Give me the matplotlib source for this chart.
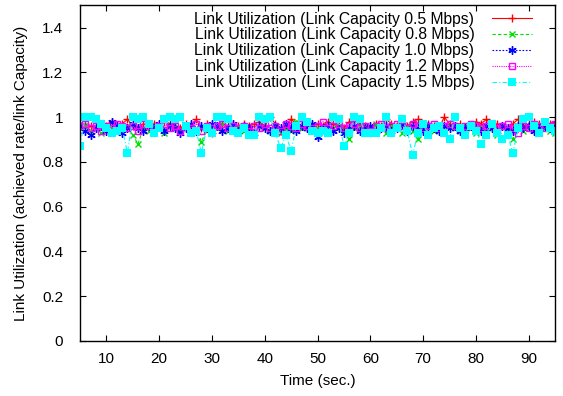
import numpy as np
import matplotlib
matplotlib.use('Agg')
import matplotlib.pyplot as plt

plt.rcParams['font.family'] = ['Liberation Sans', 'DejaVu Sans']
plt.rcParams['font.size'] = 11

# -- Time axis (sec.)
time_s = list(range(5, 96))

# -- Link utilization per link capacity
util_05 = [0.96, 0.97, 0.96, 0.95, 0.97, 0.96, 0.98, 0.96, 0.97, 0.99,
           0.96, 0.95, 0.97, 0.96, 0.97, 0.96, 0.98, 0.97, 0.96, 0.95,
           0.97, 0.96, 0.99, 0.95, 0.97, 0.93, 0.96, 0.97, 0.96, 0.95,
           0.96, 0.97, 0.96, 0.97, 0.98, 0.96, 1.00, 0.97, 0.94, 0.96,
           0.99, 0.97, 0.96, 0.95, 0.96, 0.97, 0.96, 0.98, 0.97, 0.96,
           0.95, 0.98, 0.99, 0.97, 0.96, 0.94, 0.97, 0.96, 0.99, 0.97,
           0.96, 0.97, 0.96, 0.98, 0.99, 0.96, 0.97, 0.96, 0.95, 1.00,
           0.97, 0.96, 0.97, 0.95, 0.96, 0.98, 0.97, 0.99, 0.96, 0.97,
           0.96, 0.95, 0.97, 0.99, 0.96, 0.97, 0.98, 0.97, 0.96, 0.97,
           0.98]
util_08 = [0.95, 0.96, 0.94, 0.95, 0.93, 0.96, 0.95, 0.94, 0.95, 0.96,
           0.92, 0.88, 0.95, 0.94, 0.96, 0.95, 0.93, 0.96, 0.95, 0.94,
           0.96, 0.93, 0.95, 0.89, 0.94, 0.96, 0.95, 0.97, 0.94, 0.95,
           0.96, 0.94, 0.95, 0.93, 0.96, 0.95, 0.94, 0.96, 0.93, 0.95,
           0.94, 0.98, 0.95, 0.96, 0.94, 0.95, 0.96, 0.93, 0.95, 0.96,
           0.94, 0.90, 0.95, 0.96, 0.94, 0.95, 0.97, 0.95, 0.93, 0.96,
           0.95, 0.93, 0.96, 0.94, 0.90, 0.95, 0.96, 0.94, 0.95, 0.93,
           0.96, 0.95, 0.94, 0.96, 0.95, 0.93, 0.96, 0.94, 0.95, 0.92,
           0.96, 0.95, 0.90, 0.96, 0.94, 0.95, 0.96, 0.93, 0.95, 0.94,
           0.93]
util_10 = [0.96, 0.94, 0.92, 0.95, 0.96, 0.94, 0.98, 0.96, 0.93, 0.95,
           0.97, 0.95, 0.94, 0.96, 0.95, 0.97, 0.94, 0.96, 0.95, 0.93,
           0.95, 0.97, 0.94, 0.96, 0.95, 0.97, 0.96, 0.94, 0.95, 0.97,
           0.94, 0.96, 0.95, 0.93, 0.96, 0.95, 0.94, 0.96, 0.95, 0.97,
           0.95, 0.94, 0.96, 0.95, 0.97, 0.91, 0.95, 0.96, 0.94, 0.95,
           0.93, 0.95, 0.96, 0.94, 0.95, 0.96, 0.94, 0.95, 0.96, 0.94,
           0.95, 0.97, 0.94, 0.96, 0.95, 0.94, 0.96, 0.95, 0.94, 0.96,
           0.95, 0.96, 0.94, 0.95, 0.96, 0.95, 0.94, 0.96, 0.95, 0.94,
           0.96, 0.95, 0.94, 0.96, 0.95, 0.96, 0.94, 0.95, 0.96, 0.95,
           0.96]
util_12 = [0.96, 0.97, 0.95, 0.96, 0.94, 0.96, 0.95, 0.97, 0.96, 0.95,
           0.96, 0.94, 0.97, 0.96, 0.95, 0.96, 0.97, 0.95, 0.96, 0.94,
           0.96, 0.95, 0.97, 0.94, 0.96, 0.95, 0.96, 0.97, 0.95, 0.96,
           0.95, 0.96, 0.94, 0.96, 0.95, 0.97, 0.95, 0.96, 0.94, 0.97,
           0.96, 0.95, 0.97, 0.96, 0.95, 0.96, 0.98, 0.95, 0.96, 0.97,
           0.95, 0.96, 0.97, 0.95, 0.96, 0.94, 0.96, 0.97, 0.95, 0.96,
           0.97, 0.96, 0.95, 0.97, 0.96, 0.95, 0.96, 0.97, 0.95, 0.96,
           0.97, 0.96, 0.95, 0.96, 0.97, 0.96, 0.95, 0.96, 0.97, 0.95,
           0.96, 0.97, 0.95, 0.93, 0.96, 0.95, 0.97, 0.96, 0.95, 0.96,
           0.97]
util_15 = [0.87, 1.00, 1.00, 0.99, 0.97, 0.95, 0.93, 0.94, 0.95, 0.84,
           1.00, 0.99, 1.00, 0.97, 0.93, 0.95, 0.99, 1.00, 0.99, 1.00,
           0.96, 0.93, 0.94, 0.84, 0.95, 0.93, 1.00, 1.00, 0.99, 0.94,
           0.93, 0.95, 0.92, 0.92, 1.00, 0.99, 1.00, 0.93, 0.86, 0.92,
           0.85, 0.96, 1.00, 0.98, 0.94, 0.93, 0.94, 0.93, 1.00, 0.99,
           0.87, 0.93, 1.00, 0.99, 0.93, 0.93, 0.93, 0.95, 1.00, 0.93,
           0.95, 0.99, 0.94, 0.83, 0.93, 0.97, 0.92, 0.95, 0.96, 0.93,
           0.90, 1.00, 0.95, 0.92, 0.96, 0.94, 0.88, 0.92, 0.97, 0.93,
           0.90, 0.92, 0.84, 0.95, 0.99, 1.00, 0.96, 0.93, 0.98, 0.95,
           0.94]

labels = ['Link Utilization (Link Capacity 0.5 Mbps)',
          'Link Utilization (Link Capacity 0.8 Mbps)',
          'Link Utilization (Link Capacity 1.0 Mbps)',
          'Link Utilization (Link Capacity 1.2 Mbps)',
          'Link Utilization (Link Capacity 1.5 Mbps)']

fig = plt.figure(figsize=(5.63, 3.96), dpi=100)
ax = fig.add_axes([0.142, 0.139, 0.844, 0.848])

# -- gnuplot-like line styles
ax.plot(time_s, util_05, color='#ff0000', lw=0.8, ls='-', marker='+', ms=6, mew=1.0, label=labels[0])
ax.plot(time_s, util_08, color='#00e000', lw=0.8, ls=(0, (3, 2)), marker='x', ms=4, mew=1.0, label=labels[1])
ax.plot(time_s, util_10, color='#0000ff', lw=0.8, ls=(0, (1.5, 1.5)), marker=(6, 2, 0), ms=6, mew=1.0, label=labels[2])
ax.plot(time_s, util_12, color='#ff00ff', lw=0.8, ls=(0, (1, 1)), marker='s', ms=5, mew=1.0,
        mfc='none', label=labels[3])
ax.plot(time_s, util_15, color='#00ffff', lw=0.8, ls=(0, (4, 2, 1, 2)), marker='s', ms=5.5, mew=0,
        label=labels[4])

ax.set_xlim(5, 95)
ax.set_ylim(0, 1.5)
ax.set_xticks(range(10, 91, 10))
ax.set_yticks([0, 0.2, 0.4, 0.6, 0.8, 1.0, 1.2, 1.4])
ax.set_yticklabels(['0', '0.2', '0.4', '0.6', '0.8', '1', '1.2', '1.4'])
ax.tick_params(direction='in', top=True, right=True, length=4, width=0.8, labelsize=11)
ax.tick_params(axis='x', pad=8)
ax.tick_params(axis='y', pad=12)
for s in ax.spines.values():
    s.set_linewidth(1.0)

ax.set_xlabel('Time (sec.)', fontsize=11, labelpad=6)
ax.set_ylabel('Link Utilization (achieved rate/link Capacity)', fontsize=11, labelpad=10)

ax.legend(loc='upper right', frameon=False, markerfirst=False, handlelength=2.6,
          labelspacing=0.06, borderaxespad=0.0, borderpad=0.3, handletextpad=1.1,
          fontsize=11.3, bbox_to_anchor=(0.962, 0.995))

fig.savefig('out.png', dpi=100)
